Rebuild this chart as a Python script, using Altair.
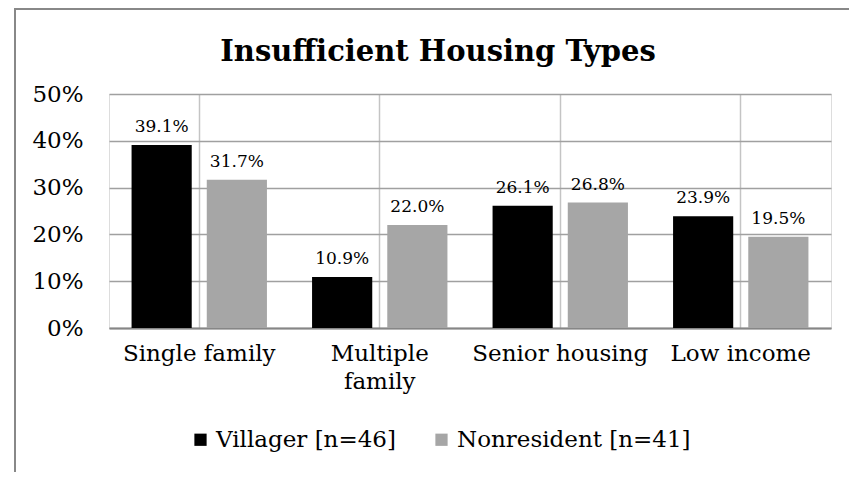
import altair as alt
import pandas as pd

title_text = "Insufficient Housing Types"
categories = ["Single family", "Multiple family", "Senior housing", "Low income"]
series = ["Villager [n=46]", "Nonresident [n=41]"]
villager = [0.391, 0.109, 0.261, 0.239]
nonresident = [0.317, 0.220, 0.268, 0.195]
y_ticks = [0, 0.1, 0.2, 0.3, 0.4, 0.5]
colors = ["#000000", "#a6a6a6"]

rows = []
for c, v, n in zip(categories, villager, nonresident):
    rows.append({"category": c, "series": series[0], "value": v})
    rows.append({"category": c, "series": series[1], "value": n})
df = pd.DataFrame(rows)

FONT = "DejaVu Serif"

x_enc = alt.X(
    "category:N",
    sort=categories,
    scale=alt.Scale(paddingInner=0, paddingOuter=0),
    axis=alt.Axis(
        title=None, labelAngle=0, ticks=False, domain=True,
        domainColor="#868686", domainWidth=2,
        grid=True, gridColor="#c4c4c4", gridWidth=1.5, bandPosition=0.5,
        labelPadding=14, labelFontSize=23, labelFont=FONT, labelColor="#000000",
        labelLineHeight=28, labelLimit=300,
        labelExpr="datum.label == 'Multiple family' ? ['Multiple', 'family'] : datum.label",
    ),
)
xoff_enc = alt.XOffset(
    "series:N", sort=series,
    scale=alt.Scale(paddingInner=0.2, paddingOuter=0.3),
)
y_enc = alt.Y(
    "value:Q",
    scale=alt.Scale(domain=[0, 0.5], nice=False),
    axis=alt.Axis(
        title=None, values=y_ticks, format=".0%", ticks=False, domain=False,
        grid=True, gridColor="#a0a0a0", gridWidth=1.5,
        labelPadding=26, labelFontSize=23, labelFont=FONT, labelColor="#000000",
    ),
)
color_enc = alt.Color(
    "series:N", sort=series,
    scale=alt.Scale(domain=series, range=colors),
    legend=alt.Legend(
        title=None, orient="none", direction="horizontal",
        legendX=80, legendY=334,
        symbolType="square", symbolSize=150, symbolStrokeWidth=0,
        symbolOpacity=1,
        labelFont=FONT, labelFontSize=23, labelColor="#000000",
        labelOffset=4, columnPadding=34, labelLimit=400,
    ),
)

base = alt.Chart(df)
bars = base.mark_bar(opacity=1).encode(
    x=x_enc, xOffset=xoff_enc, y=y_enc, color=color_enc
)
labels = base.mark_text(
    baseline="bottom", dy=-9, fontSize=17, font=FONT, color="#000000"
).encode(
    x=alt.X("category:N", sort=categories),
    xOffset=alt.XOffset("series:N", sort=series),
    y="value:Q",
    text=alt.Text("value:Q", format=".1%"),
)

frame = alt.Chart(pd.DataFrame({"a": [0]})).mark_rect(
    fill=None, stroke="#888888", strokeWidth=2
).encode(
    x=alt.value(-94), x2=alt.value(800), y=alt.value(-85), y2=alt.value(500)
)

title = alt.Chart(pd.DataFrame({"t": [title_text]})).mark_text(
    font=FONT, fontSize=29, fontWeight="bold", color="#000000",
    align="center", baseline="alphabetic",
).encode(
    x=alt.value(329), y=alt.value(-33), text="t:N"
)

chart = alt.layer(frame, bars, labels, title).properties(
    width=722,
    height=234,
    autosize=alt.AutoSizeParams(type="none"),
    padding={"left": 101, "top": 86, "right": 18, "bottom": 144},
).configure_view(stroke=None).configure(background="white")

chart.save("out.html", embed_options={"renderer": "svg", "actions": False})
